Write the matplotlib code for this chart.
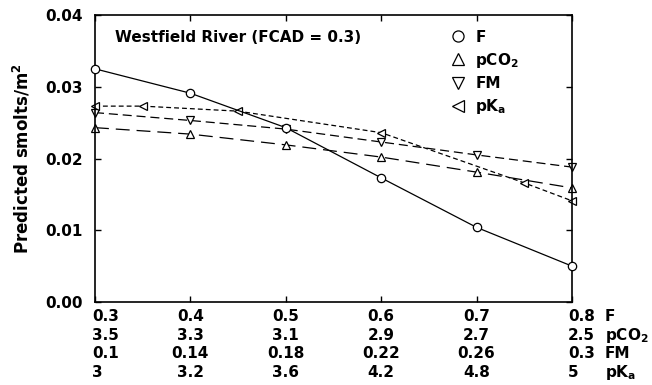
import matplotlib
matplotlib.use("Agg")
from matplotlib import pyplot as plt
from matplotlib.lines import Line2D

plt.rcParams['font.family'] = ['DejaVu Sans']
plt.rcParams['font.weight'] = 'bold'
plt.rcParams['axes.labelweight'] = 'bold'
plt.rcParams['mathtext.fontset'] = 'custom'
plt.rcParams['mathtext.rm'] = 'DejaVu Sans:bold'
plt.rcParams['mathtext.bf'] = 'DejaVu Sans:bold'
plt.rcParams['mathtext.it'] = 'DejaVu Sans:bold'
plt.rcParams['lines.scale_dashes'] = False

# data, each series in its own units
f_x = [0.3, 0.4, 0.5, 0.6, 0.7, 0.8]
f_y = [0.0325, 0.0291, 0.0243, 0.0173, 0.0104, 0.0050]

pco2_x = [3.5, 3.3, 3.1, 2.9, 2.7, 2.5]
pco2_y = [0.0243, 0.0234, 0.0219, 0.0202, 0.0181, 0.0159]

fm_x = [0.1, 0.14, 0.18, 0.22, 0.26, 0.3]
fm_y = [0.0264, 0.0253, 0.0241, 0.0223, 0.0205, 0.0188]

pka_x = [3, 3.2, 3.6, 4.2, 4.8, 5]
pka_y = [0.0273, 0.0273, 0.0266, 0.0236, 0.0166, 0.0141]

# tick label rows under the axis
row_names = ['F', 'pCO$_2$', 'FM', 'pK$_a$']
row_labels = [
    ['0.3', '0.4', '0.5', '0.6', '0.7', '0.8'],
    ['3.5', '3.3', '3.1', '2.9', '2.7', '2.5'],
    ['0.1', '0.14', '0.18', '0.22', '0.26', '0.3'],
    ['3', '3.2', '3.6', '4.2', '4.8', '5'],
]


# every series drawn on the F scale (linear maps of the other axes)
def from_pco2(v):
    return [0.3 + (3.5 - p) * 0.5 for p in v]


def from_fm(v):
    return [0.3 + (m - 0.1) / 0.2 * 0.5 for m in v]


def from_pka(v):
    return [0.3 + (k - 3) / 2 * 0.5 for k in v]


fig = plt.figure(figsize=(6.52, 3.85), dpi=100)
ax = fig.add_axes([0.1457, 0.2156, 0.7316, 0.7454])

mk = dict(color='black', mfc='white', mec='black', markersize=6, mew=0.9,
          lw=0.9, clip_on=False)
ax.plot(f_x, f_y, marker='o', ls='-', zorder=5, **mk)
ax.plot(from_pco2(pco2_x), pco2_y, marker='^', dashes=(10, 5), **mk)
ax.plot(from_fm(fm_x), fm_y, marker='v', dashes=(6.5, 3.5), **mk)
ax.plot(from_pka(pka_x), pka_y, marker='<', dashes=(3.5, 2.2), **mk)

ax.set_xlim(0.3, 0.8)
ax.set_ylim(0, 0.04)
ax.set_xticks(f_x)
ax.set_xticklabels([])
ax.set_yticks([0, 0.01, 0.02, 0.03, 0.04])
ax.set_yticklabels(['0.00', '0.01', '0.02', '0.03', '0.04'], fontsize=11)
ax.tick_params(direction='in', length=4, width=1, top=True, right=True)
ax.tick_params(axis='y', pad=9)
for s in ax.spines.values():
    s.set_linewidth(1.2)

ax.set_ylabel('Predicted smolts/m$^2$', fontsize=12, fontweight='bold',
              labelpad=9)

# multi-row x labels
trans = ax.get_xaxis_transform()
for r, labels in enumerate(row_labels):
    yy = -0.052 - r * 0.064
    for i, lab in enumerate(labels):
        if i == 0:
            ax.text(f_x[i] - 0.003, yy, lab, transform=trans, ha='left',
                    va='center', fontsize=11)
        elif i == len(labels) - 1:
            ax.text(f_x[i] - 0.004, yy, lab, transform=trans, ha='left',
                    va='center', fontsize=11)
        else:
            ax.text(f_x[i], yy, lab, transform=trans, ha='center',
                    va='center', fontsize=11)
    ax.text(0.8 + 0.0345, yy, row_names[r], transform=trans, ha='left',
            va='center', fontsize=11)

ax.text(0.042, 0.92, 'Westfield River (FCAD = 0.3)', transform=ax.transAxes,
        ha='left', va='center', fontsize=11)

handles = [
    Line2D([], [], ls='none', marker=m, mfc='white', mec='black',
           markersize=8, mew=0.9)
    for m in ['o', '^', 'v', '<']
]
ax.legend(handles, ['F', 'pCO$_2$', 'FM', 'pK$_a$'], loc='upper left',
          bbox_to_anchor=(0.733, 0.97), frameon=False, fontsize=11,
          handlelength=1.0, handletextpad=0.6, labelspacing=0.4,
          borderaxespad=0)

fig.savefig('out.png', dpi=100)
